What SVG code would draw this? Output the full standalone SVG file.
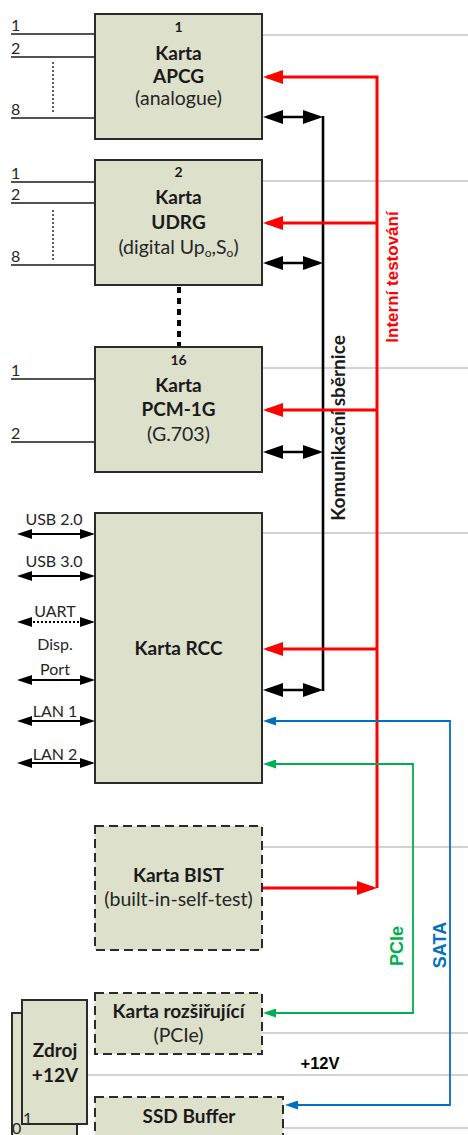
<svg xmlns="http://www.w3.org/2000/svg" width="468" height="1135" viewBox="0 0 468 1135">
<style>
.card{fill:#dde0cb;stroke:#2b2b2b;stroke-width:2}
.dash{stroke-dasharray:9,5}
.guide{stroke:#a6a6a6;stroke-width:1;fill:none}
.in{stroke:#1a1a1a;stroke-width:1.6;fill:none}
.b{font-family:Lato,"Open Sans",sans-serif;font-weight:bold;font-size:19px;fill:#1a1a1a;text-anchor:middle}
.r{font-family:Lato,"Open Sans",sans-serif;font-size:19.5px;fill:#262626;text-anchor:middle}
.num{font-family:Lato,"Open Sans",sans-serif;font-weight:bold;font-size:14px;fill:#1a1a1a;text-anchor:middle}
.lab{font-family:Lato,"Open Sans",sans-serif;font-size:16px;fill:#262626}
.labc{font-family:Lato,"Open Sans",sans-serif;font-size:16px;fill:#262626;text-anchor:middle}
.ar{font-family:"Liberation Sans",Arial,sans-serif;font-weight:bold;text-anchor:middle}
.red{stroke:#ff0000;stroke-width:3;fill:none}
.blk{stroke:#000;stroke-width:2.6;fill:none}
.blue{stroke:#0070c0;stroke-width:1.8;fill:none}
.green{stroke:#00b050;stroke-width:1.8;fill:none}
.bi{stroke:#000;stroke-width:1.8;fill:none;marker-start:url(#ah-s);marker-end:url(#ah-s)}
</style>
<defs>
<marker id="ah-red" markerUnits="userSpaceOnUse" markerWidth="20" markerHeight="14" viewBox="0 0 20 14" refX="16" refY="7" orient="auto-start-reverse"><path d="M0,0 L20,7 L0,14 z" fill="#ff0000"/></marker>
<marker id="ah-blk" markerUnits="userSpaceOnUse" markerWidth="20" markerHeight="14" viewBox="0 0 20 14" refX="16" refY="7" orient="auto-start-reverse"><path d="M0,0 L20,7 L0,14 z" fill="#000"/></marker>
<marker id="ah-s" markerUnits="userSpaceOnUse" markerWidth="15" markerHeight="10" viewBox="0 0 15 10" refX="11" refY="5" orient="auto-start-reverse"><path d="M0,0 L15,5 L0,10 z" fill="#000"/></marker>
<marker id="ah-blue" markerUnits="userSpaceOnUse" markerWidth="13" markerHeight="9" viewBox="0 0 13 9" refX="9" refY="4.5" orient="auto-start-reverse"><path d="M0,0 L13,4.5 L0,9 z" fill="#0070c0"/></marker>
<marker id="ah-green" markerUnits="userSpaceOnUse" markerWidth="13" markerHeight="9" viewBox="0 0 13 9" refX="9" refY="4.5" orient="auto-start-reverse"><path d="M0,0 L13,4.5 L0,9 z" fill="#00b050"/></marker>
</defs>
<rect width="468" height="1135" fill="#fff"/>

<g id="guides">
<path class="guide" d="M262,35 H468 M262,181 H468 M262,368 H468 M262,533 H468 M262,847 H468 M262,1033 H468 M87,1075 H468 M283,1128 H468"/>
</g>

<g id="connectors">
<path class="in" d="M11,34 H95 M11,57 H95 M11,118 H95 M11,182 H95 M11,203 H95 M11,265 H95 M11,379 H95 M11,442 H95"/>
<path d="M53,62 V112 M53,210 V260" stroke="#1a1a1a" stroke-width="1.4" stroke-dasharray="2,2" fill="none"/>
<path d="M179,287 V346" stroke="#000" stroke-width="4" stroke-dasharray="6,5" fill="none"/>
<path class="bi" d="M21,534 H91"/>
<path class="bi" d="M21,576 H91"/>
<path class="bi" d="M21,622 H91" stroke-dasharray="2,2"/>
<path class="bi" d="M21,680 H91"/>
<path class="bi" d="M21,721 H91"/>
<path class="bi" d="M21,763 H91"/>
<path class="blk" d="M323,116 V691"/>
<path class="blk" d="M267,117 H319" marker-start="url(#ah-blk)" marker-end="url(#ah-blk)"/>
<path class="blk" d="M267,263 H319" marker-start="url(#ah-blk)" marker-end="url(#ah-blk)"/>
<path class="blk" d="M267,452 H319" marker-start="url(#ah-blk)" marker-end="url(#ah-blk)"/>
<path class="blk" d="M267,690 H319" marker-start="url(#ah-blk)" marker-end="url(#ah-blk)"/>
<path class="red" d="M377,888 V77 H267" marker-end="url(#ah-red)"/>
<path class="red" d="M377,223 H267" marker-end="url(#ah-red)"/>
<path class="red" d="M377,410 H267" marker-end="url(#ah-red)"/>
<path class="red" d="M377,649 H267" marker-end="url(#ah-red)"/>
<path class="red" d="M262,888 H373" marker-end="url(#ah-red)"/>
<path class="blue" d="M267,721 H450 V1105 H289" marker-start="url(#ah-blue)" marker-end="url(#ah-blue)"/>
<path class="green" d="M267,764 H413 V1013 H267" marker-start="url(#ah-green)" marker-end="url(#ah-green)"/>
<text class="ar" transform="translate(398,277) rotate(-90)" font-size="17" fill="#ff0000">Interní testování</text>
<text class="b" transform="translate(345,428) rotate(-90)" font-size="17" fill="#000">Komunikační sběrnice</text>
<text class="ar" transform="translate(403,946) rotate(-90)" font-size="18" fill="#00b050">PCIe</text>
<text class="ar" transform="translate(446,945) rotate(-90)" font-size="18" fill="#0070c0">SATA</text>
<text class="ar" x="320" y="1069" font-size="16.5" fill="#000">+12V</text>
<text class="lab" x="11" y="31">1</text>
<text class="lab" x="11" y="54">2</text>
<text class="lab" x="11" y="115">8</text>
<text class="lab" x="11" y="179">1</text>
<text class="lab" x="11" y="200">2</text>
<text class="lab" x="11" y="262">8</text>
<text class="lab" x="11" y="376">1</text>
<text class="lab" x="11" y="439">2</text>
<text class="labc" x="54" y="525">USB 2.0</text>
<text class="labc" x="54" y="567">USB 3.0</text>
<text class="labc" x="55" y="617">UART</text>
<text class="labc" x="55" y="650">Disp.</text>
<text class="labc" x="55" y="675">Port</text>
<text class="labc" x="55" y="717">LAN 1</text>
<text class="labc" x="55" y="760">LAN 2</text>
</g>

<g id="card-apcg">
<rect class="card" x="95" y="14" width="167" height="125"/>
<text class="num" x="178.5" y="32">1</text>
<text class="b" x="178.5" y="60">Karta</text>
<text class="b" x="178.5" y="83">APCG</text>
<text class="r" x="178.5" y="105">(analogue)</text>
</g>

<g id="card-udrg">
<rect class="card" x="95" y="160" width="167" height="125"/>
<text class="num" x="178.5" y="177">2</text>
<text class="b" x="178.5" y="204">Karta</text>
<text class="b" x="178.5" y="229">UDRG</text>
<text class="r" x="178.5" y="254">(digital Up<tspan font-size="12" dy="3">o</tspan><tspan dy="-3">,S</tspan><tspan font-size="12" dy="3">o</tspan><tspan dy="-3">)</tspan></text>
</g>

<g id="card-pcm">
<rect class="card" x="95" y="347" width="167" height="125"/>
<text class="num" x="178.5" y="365">16</text>
<text class="b" x="178.5" y="392">Karta</text>
<text class="b" x="178.5" y="416">PCM-1G</text>
<text class="r" x="178.5" y="441">(G.703)</text>
</g>

<g id="card-rcc">
<rect class="card" x="95" y="513" width="167" height="270"/>
<text class="b" x="178.5" y="655">Karta RCC</text>
</g>

<g id="card-bist">
<rect class="card dash" x="95" y="826" width="167" height="124"/>
<text class="b" x="178.5" y="882">Karta BIST</text>
<text class="r" x="178.5" y="906">(built-in-self-test)</text>
</g>

<g id="card-rozsirujici">
<rect class="card dash" x="95" y="993" width="167" height="61"/>
<text class="b" x="178.5" y="1018">Karta rozšiřující</text>
<text class="r" x="178.5" y="1042">(PCIe)</text>
</g>

<g id="zdroj">
<rect class="card" x="12" y="1013" width="65" height="130"/>
<rect class="card" x="22" y="1000" width="65" height="124"/>
<text class="b" x="55" y="1057">Zdroj</text>
<text class="b" x="55" y="1082">+12V</text>
<text class="lab" x="23" y="1124" font-size="13">1</text>
<text class="lab" x="12" y="1134" font-size="12">0</text>
</g>

<g id="ssd-buffer">
<rect class="card dash" x="95" y="1097" width="188" height="60"/>
<text class="b" x="189" y="1123">SSD Buffer</text>
</g>
</svg>
